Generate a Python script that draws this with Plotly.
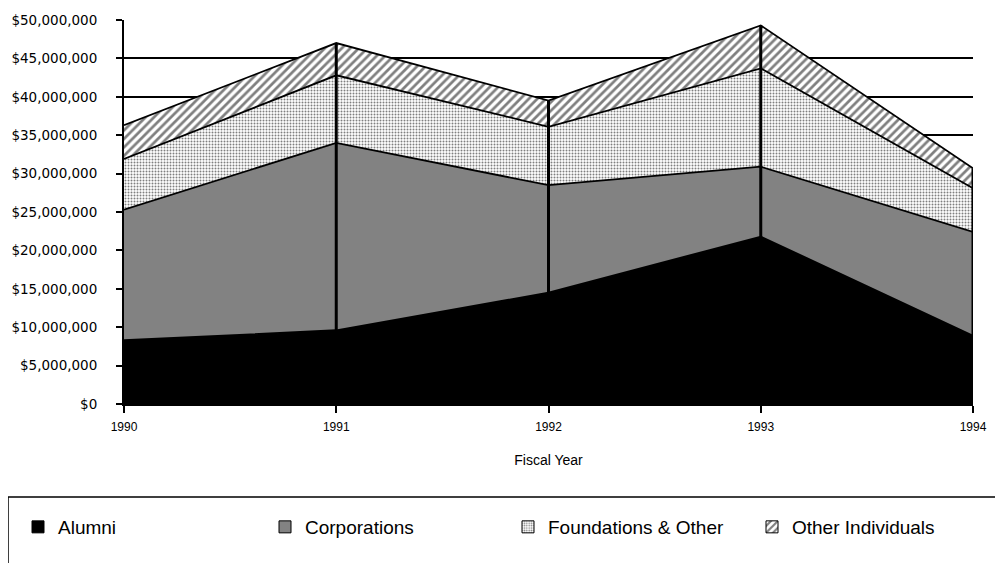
import plotly.graph_objects as go

years = [1990, 1991, 1992, 1993, 1994]

# gift amounts in dollars
alumni = [8_300_000, 9_600_000, 14_500_000, 21_800_000, 8_900_000]
corporations = [17_000_000, 24_400_000, 14_000_000, 9_100_000, 13_500_000]
foundations = [6_600_000, 8_800_000, 7_600_000, 12_800_000, 5_700_000]
other_individuals = [4_400_000, 4_200_000, 3_400_000, 5_600_000, 2_600_000]

series_names = ['Alumni', 'Corporations', 'Foundations & Other', 'Other Individuals']
y_ticks = list(range(0, 50_000_001, 5_000_000))
y_labels = ['$' + f'{v:,}' for v in y_ticks]

# the page body has an 8px margin, so work in page pixels and shift
OFF = 8
W, H = 1003 - OFF, 563 - OFF
L, T = 124 - OFF, 20 - OFF
R = W - (973 - OFF)
B = H - (404 - OFF)
PW, PH = W - L - R, H - T - B

def px_x(p):
    return (p - OFF - L) / PW

def px_y(p):
    return (H - B - (p - OFF)) / PH

patterns = [
    None,
    dict(shape='.', fillmode='overlay', bgcolor='white', fgcolor='black', size=2, solidity=0.9),
    dict(shape='.', fillmode='overlay', bgcolor='white', fgcolor='black', size=3, solidity=0.35),
    dict(shape='/', fillmode='overlay', bgcolor='white', fgcolor='black', size=6, solidity=0.45),
]
fills = ['black', '#7a7a7a', 'white', 'white']
legend_ids = ['legend', 'legend2', 'legend3', 'legend4']
legend_left = [18, 265, 508, 752]

fig = go.Figure()

for name, vals, pat, col in zip(series_names,
                                [alumni, corporations, foundations, other_individuals],
                                patterns, fills):
    fig.add_trace(go.Scatter(
        x=years, y=vals, name=name, stackgroup='one', mode='lines',
        line=dict(color='black', width=1.8),
        fillcolor=col, fillpattern=pat,
        showlegend=False, hoverinfo='skip',
    ))

# drop lines at each year down from the stack total
totals = [a + c + f + o for a, c, f, o in zip(alumni, corporations, foundations, other_individuals)]
dx, dy = [], []
for yr, tot in zip(years[1:], totals[1:]):
    dx += [yr, yr, None]
    dy += [0, tot, None]
fig.add_trace(go.Scatter(x=dx, y=dy, mode='lines', line=dict(color='black', width=3),
                         showlegend=False, hoverinfo='skip'))

# legend swatches, one legend per entry so they sit in fixed columns
for name, pat, col, lid in zip(series_names, patterns, fills, legend_ids):
    fig.add_trace(go.Bar(
        x=[None], y=[None], name=name, legend=lid,
        marker=dict(color=col, line=dict(color='black', width=1), pattern=pat),
    ))

fig.add_shape(type='rect', xref='paper', yref='paper',
              x0=px_x(8), x1=px_x(1001), y0=px_y(590), y1=px_y(497),
              line=dict(color='black', width=1.5), fillcolor='rgba(0,0,0,0)')

legend_style = dict(
    orientation='h', xanchor='left', yanchor='middle', y=px_y(527),
    font=dict(family='Liberation Sans, Arial, sans-serif', size=19, color='black'),
    bgcolor='rgba(0,0,0,0)', borderwidth=0,
)

fig.update_layout(
    width=W, height=H,
    margin=dict(l=L, r=R, t=T, b=B, autoexpand=False),
    plot_bgcolor='white', paper_bgcolor='white',
    font=dict(family='Liberation Sans, Arial, sans-serif', color='black'),
    showlegend=True,
    xaxis=dict(
        range=[1990, 1994], tickvals=years, ticktext=[str(y) for y in years],
        showgrid=False, zeroline=False, automargin=False,
        showline=True, linecolor='black', linewidth=2,
        ticks='outside', ticklen=7, tickwidth=1.5, tickcolor='black',
        ticklabelstandoff=4,
        tickfont=dict(family='Liberation Sans, Arial', size=12),
        title=dict(text='Fiscal Year', standoff=22,
                   font=dict(family='Liberation Sans, Arial', size=14)),
    ),
    yaxis=dict(
        range=[0, 50_000_000], tickvals=y_ticks, ticktext=y_labels,
        showgrid=True, gridcolor='black', gridwidth=1.5,
        zeroline=False, automargin=False,
        showline=True, linecolor='black', linewidth=2,
        ticks='outside', ticklen=6, tickwidth=1.5, tickcolor='black',
        ticklabelstandoff=16,
        tickfont=dict(family='DejaVu Sans, sans-serif', size=13.5),
    ),
    barmode='overlay',
)
for lid, left in zip(legend_ids, legend_left):
    fig.update_layout({lid: dict(legend_style, x=px_x(left))})

fig.write_html("out.html")
